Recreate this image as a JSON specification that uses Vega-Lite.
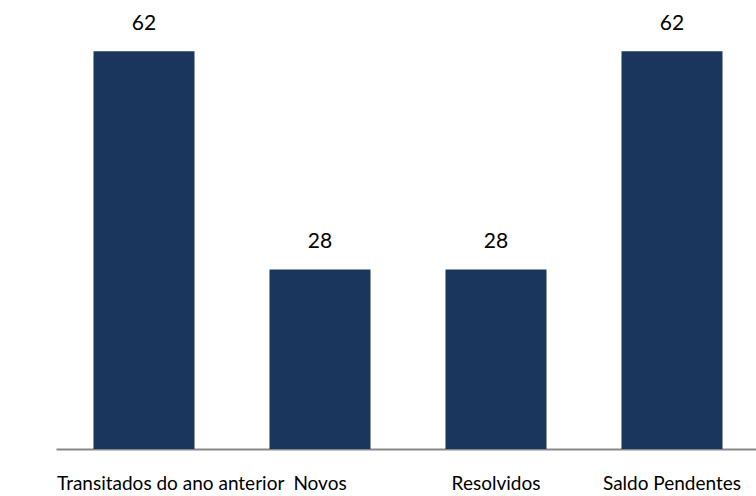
{
  "$schema": "https://vega.github.io/schema/vega-lite/v6.json",
  "width": 704,
  "height": 449,
  "autosize": {"type": "none"},
  "padding": {"left": 56, "top": 0, "right": 0, "bottom": 47},
  "background": "white",
  "data": {"values": [
    {"categoria": "Transitados do ano anterior", "valor": 62},
    {"categoria": "Novos", "valor": 28},
    {"categoria": "Resolvidos", "valor": 28},
    {"categoria": "Saldo Pendentes", "valor": 62}
  ]},
  "config": {"view": {"stroke": null}, "font": "Lato"},
  "encoding": {
    "x": {"field": "categoria", "type": "nominal", "sort": null,
      "scale": {"paddingInner": 0.426, "paddingOuter": 0.213},
      "axis": {"title": null, "labelAngle": 0, "ticks": false, "domainColor": "#868686", "domainWidth": 2,
        "labelFontSize": 19, "labelColor": "#000000", "labelPadding": 25, "labelFont": "Lato", "labelLimit": 0,
        "labelAlign": {"condition": {"test": "datum.value === 'Transitados do ano anterior'", "value": "left"}, "value": "center"},
        "labelOffset": {"condition": {"test": "datum.value === 'Transitados do ano anterior'", "value": -87}, "value": 0}
      }},
    "y": {"field": "valor", "type": "quantitative", "scale": {"domain": [0, 70]}, "axis": null}
  },
  "layer": [
    {"mark": {"type": "bar", "color": "#1b365d"}},
    {"mark": {"type": "text", "baseline": "bottom", "dy": -17, "fontSize": 21, "font": "Lato", "color": "#000000"},
     "encoding": {"text": {"field": "valor", "type": "quantitative"}}}
  ]
}
